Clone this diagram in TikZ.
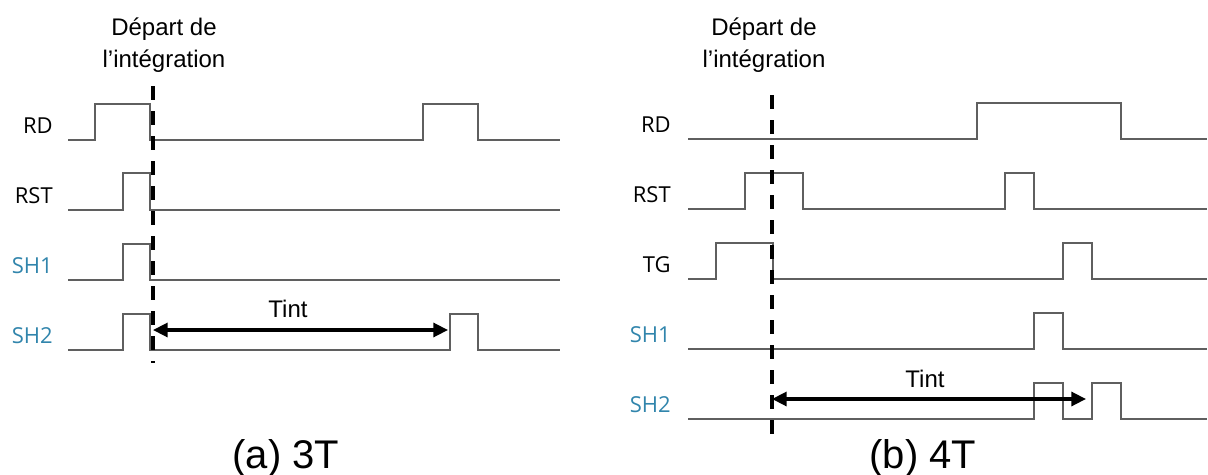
\documentclass[tikz,border=0pt]{standalone}
\usepackage{fontspec}
\setmainfont{Liberation Sans}
\newfontfamily\labfont{Open Sans}
\usetikzlibrary{arrows.meta}
\definecolor{wavegray}{RGB}{95,95,95}
\definecolor{shblue}{RGB}{49,133,172}
\begin{document}
\begin{tikzpicture}[x=0.75pt,y=-0.75pt,
  wave/.style={draw=wavegray, line width=1.5pt, line join=miter},
  sig/.style={anchor=base east, inner sep=0pt, font=\labfont\fontsize{16.5}{19}\selectfont},
  title/.style={anchor=base, inner sep=0pt, font=\fontsize{18}{22}\selectfont},
  vline/.style={draw=black, line width=2.5pt, dash pattern=on 10.5pt off 8.25pt},
  tintarrow/.style={draw=black, line width=2.4pt, {Triangle[length=11pt,width=10.5pt]}-{Triangle[length=11pt,width=10.5pt]}},
  tintlab/.style={anchor=base, inner sep=0pt, font=\fontsize{18}{22}\selectfont},
  capt/.style={anchor=base, inner sep=0pt, font=\fontsize{30}{36}\selectfont}]
\useasboundingbox (0,0) rectangle (1208,475);

% ---------- (a) 3T ----------
\node[title] (ta1) at (164,35) {Départ de};
\node[title] (ta2) at (164,67) {l’intégration};

\node[sig] (aRD)  at (53,133) {RD};
\node[sig] (aRST) at (53,203) {RST};
\node[sig, text=shblue] (aSH1) at (53,273) {SH1};
\node[sig, text=shblue] (aSH2) at (53,343) {SH2};

\draw[wave] (68,140) -- (95,140) -- (95,104) -- (150,104) -- (150,140) -- (423,140) -- (423,104) -- (478,104) -- (478,140) -- (560,140);
\draw[wave] (68,210) -- (123,210) -- (123,173) -- (150,173) -- (150,210) -- (560,210);
\draw[wave] (68,280) -- (123,280) -- (123,244) -- (150,244) -- (150,280) -- (560,280);
\draw[wave] (68,350) -- (123,350) -- (123,314) -- (150,314) -- (150,350) -- (450,350) -- (450,314) -- (478,314) -- (478,350) -- (560,350);

\coordinate (da1) at (153,86);
\coordinate (da2) at (153,363);
\draw[vline] (da1) -- (da2);

\coordinate (aa1) at (153,330);
\coordinate (aa2) at (448,330);
\draw[tintarrow] (aa1) -- (aa2);
\node[tintlab] (atint) at (288,317) {Tint};

\node[capt] (capa) at (286,468) {(a) 3T};

% ---------- (b) 4T ----------
\node[title] (tb1) at (764,35) {Départ de};
\node[title] (tb2) at (764,67) {l’intégration};

\node[sig] (bRD)  at (671,132) {RD};
\node[sig] (bRST) at (671,202) {RST};
\node[sig] (bTG)  at (671,272) {TG};
\node[sig, text=shblue] (bSH1) at (671,342) {SH1};
\node[sig, text=shblue] (bSH2) at (671,412) {SH2};

\draw[wave] (688,139) -- (977,139) -- (977,103) -- (1121,103) -- (1121,139) -- (1207,139);
\draw[wave] (688,209) -- (745,209) -- (745,173) -- (803,173) -- (803,209) -- (1005,209) -- (1005,173) -- (1034,173) -- (1034,209) -- (1207,209);
\draw[wave] (688,279) -- (716,279) -- (716,243) -- (773,243) -- (773,279) -- (1063,279) -- (1063,243) -- (1092,243) -- (1092,279) -- (1207,279);
\draw[wave] (688,349) -- (1034,349) -- (1034,313) -- (1063,313) -- (1063,349) -- (1207,349);
\draw[wave] (688,419) -- (1034,419) -- (1034,383) -- (1063,383) -- (1063,419) -- (1092,419) -- (1092,383) -- (1121,383) -- (1121,419) -- (1207,419);

\coordinate (db1) at (772,95);
\coordinate (db2) at (772,436);
\draw[vline] (db1) -- (db2);

\coordinate (ba1) at (772,399);
\coordinate (ba2) at (1086,399);
\draw[tintarrow] (ba1) -- (ba2);
\node[tintlab] (btint) at (925,387) {Tint};

\node[capt] (capb) at (923,468) {(b) 4T};
\end{tikzpicture}
\end{document}
